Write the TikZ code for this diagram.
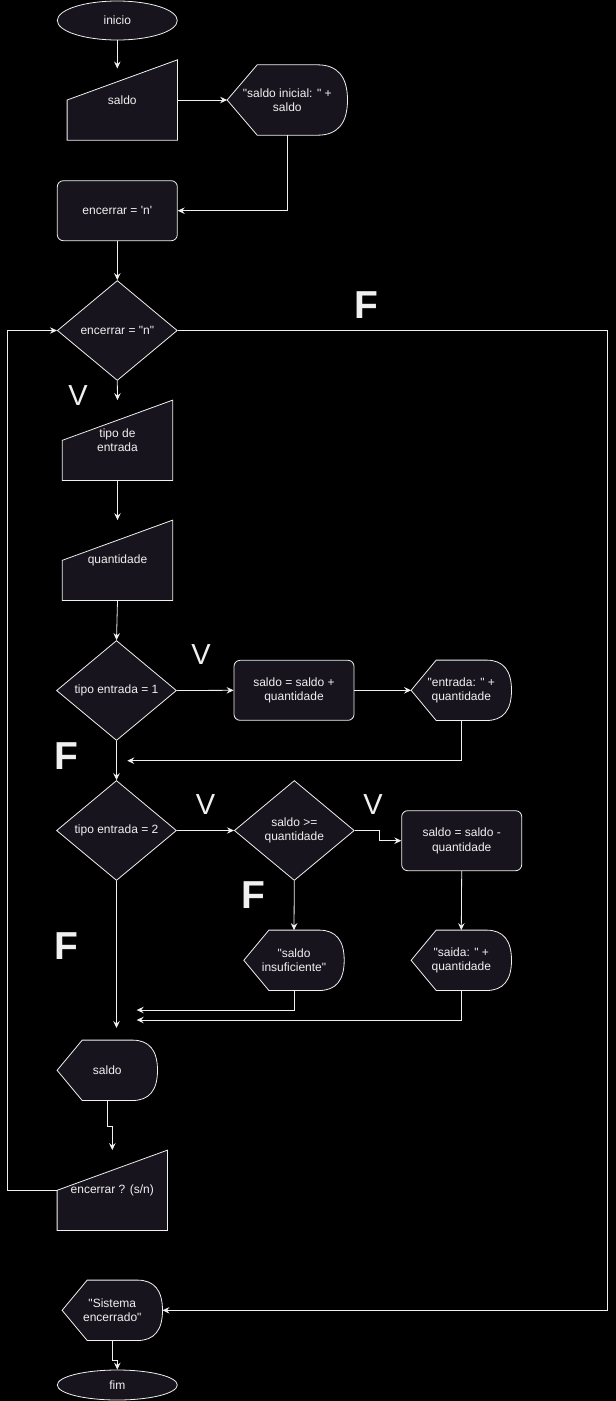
\documentclass[tikz,border=0pt]{standalone}
\usepackage{fontspec}
\setmainfont{Liberation Sans}[Ligatures=TeXOff]
\usetikzlibrary{arrows.meta,shapes.geometric,calc,backgrounds}

\definecolor{boxfill}{HTML}{18141D}
\definecolor{ink}{HTML}{F0F0F0}

% manual input: sloped top edge
\newcommand{\manualshape}[1]{%
  \filldraw[box] (#1.south west) -- (#1.west) -- (#1.north east) -- (#1.south east) -- cycle;}
% display: pointed left end, rounded right end
\newcommand{\displayshape}[1]{%
  \path (#1.north west) -- coordinate[pos=.25] (#1-nl) coordinate[pos=.75] (#1-nr) (#1.north east);
  \path (#1.south west) -- coordinate[pos=.25] (#1-sl) coordinate[pos=.75] (#1-sr) (#1.south east);
  \filldraw[box] (#1.west) -- (#1-nl) -- (#1-nr)
    .. controls ($(#1-nr)!.667!(#1.north east)$) and ($(#1.east)!.667!(#1.north east)$) .. (#1.east)
    .. controls ($(#1.east)!.667!(#1.south east)$) and ($(#1-sr)!.667!(#1.south east)$) .. (#1-sr)
    -- (#1-sl) -- cycle;}

\begin{document}
\begin{tikzpicture}[x=1pt, y=-1pt,
  box/.style={draw=ink, fill=boxfill, line width=.8pt},
  txt/.style={text=ink, font=\fontsize{12}{14.5}\selectfont, align=center, inner sep=0pt},
  term/.style={box, txt, ellipse, minimum width=120pt},
  proc/.style={box, txt, rectangle, rounded corners=6pt, minimum width=120pt, minimum height=60pt},
  cond/.style={box, txt, diamond, minimum width=120pt, minimum height=100pt, aspect=1.2},
  inbox/.style={txt, rectangle, minimum width=110pt, minimum height=80pt},
  outbox/.style={txt, rectangle, minimum height=60pt},
  vlab/.style={text=ink, font=\fontsize{29}{29}\selectfont, inner sep=0pt},
  flab/.style={text=ink, font=\fontsize{39}{39}\selectfont\bfseries, inner sep=0pt},
  flow/.style={draw=ink, line width=.8pt, -{Stealth[length=7pt,width=6.5pt,inset=2.5pt]}}]

\useasboundingbox (0,0) rectangle (616,1401);

\node[term, minimum height=39pt] (inicio) at (117.3,20.5) {inicio};
\node[inbox] (saldo) at (122.3,100) {saldo};
\node[outbox, minimum width=120pt, minimum height=70pt] (msgini) at (287.3,100) {"saldo inicial: " +\\saldo};
\node[proc] (enc) at (117.3,210.7) {encerrar = 'n'};
\node[cond] (loop) at (117.3,330.5) {encerrar = "n"};
\node[inbox] (tipo) at (117.5,440.3) {tipo de\\entrada};
\node[inbox] (qtd) at (117.5,560.3) {quantidade};
\node[cond] (dec1) at (116.5,690.5) {tipo entrada = 1};
\node[proc] (soma) at (294,690.3) {saldo = saldo +\\quantidade};
\node[outbox, minimum width=100pt] (msgent) at (461.3,690.3) {"entrada: " +\\quantidade};
\node[cond] (dec2) at (116.5,830.5) {tipo entrada = 2};
\node[cond] (dec3) at (294.3,830.5) {saldo >=\\quantidade};
\node[proc] (sub) at (461.7,840.7) {saldo = saldo -\\quantidade};
\node[outbox, minimum width=100pt] (insuf) at (294,960.3) {"saldo\\insuficiente"};
\node[outbox, minimum width=100pt] (saida) at (461.3,960.3) {"saida: " +\\quantidade};
\node[outbox, minimum width=100pt] (show) at (107.3,1070.3) {saldo};
\node[inbox] (ask) at (112.3,1190.3) {encerrar ? (s/n)};
\node[outbox, minimum width=100pt] (bye) at (112.3,1310.3) {"Sistema\\encerrado"};
\node[term, minimum height=30pt] (fim) at (117.3,1385) {fim};

\coordinate (j0) at (117.3,68.5);
\coordinate (j1) at (127.3,760.7);
\coordinate (j2) at (136.7,1010);
\coordinate (j3) at (136.7,1020);
\coordinate (j4) at (116.5,1028);

\begin{scope}[on background layer]
\fill[black] (0,0) rectangle (616,1401);
\manualshape{saldo}
\manualshape{tipo}
\manualshape{qtd}
\manualshape{ask}
\displayshape{msgini}
\displayshape{msgent}
\displayshape{insuf}
\displayshape{saida}
\displayshape{show}
\displayshape{bye}
\end{scope}

% connectors
\draw[flow] (inicio.south) -- (j0);
\draw[flow] (saldo.east) -- (msgini.west);
\draw[flow] (msgini.south) |- (enc.east);
\draw[flow] (enc.south) -- (loop.north);
\draw[flow] (loop.south) -- (tipo.north);
\draw[flow] (tipo.south) -- (qtd.north);
\draw[flow] (qtd.south) -- (dec1.north);
\draw[flow] (dec1.east) -- (soma.west);
\draw[flow] (soma.east) -- (msgent.west);
\draw[flow] (msgent.south) |- (j1);
\draw[flow] (dec1.south) -- (dec2.north);
\draw[flow] (dec2.east) -- (dec3.west);
\draw[flow] (dec3.east) -- ++(24.4,0) |- (sub.west);
\draw[flow] (dec3.south) -- (insuf.north);
\draw[flow] (sub.south) -- (saida.north);
\draw[flow] (insuf.south) |- (j2);
\draw[flow] (saida.south) |- (j3);
\draw[flow] (dec2.south) -- (j4);
\draw[flow] (show.south) -- ++(0,25.4) -| (ask.north);
\draw[flow] (ask.west) -- ++(-50,0) |- (loop.west);
\draw[flow] (loop.east) -- ++(430,0) |- (bye.east);
\draw[flow] (bye.south) -- ++(0,19.7) -| (fim.north);

% V / F labels
\node[flab] (f1) at (366.7,305.5) {F};
\node[vlab] (v1) at (78,395.5) {V};
\node[vlab] (v2) at (201,655) {V};
\node[flab] (f2) at (66,756) {F};
\node[vlab] (v3) at (205.5,804.5) {V};
\node[vlab] (v4) at (373,804.5) {V};
\node[flab] (f3) at (253,895) {F};
\node[flab] (f4) at (66,946) {F};

\end{tikzpicture}
\end{document}
